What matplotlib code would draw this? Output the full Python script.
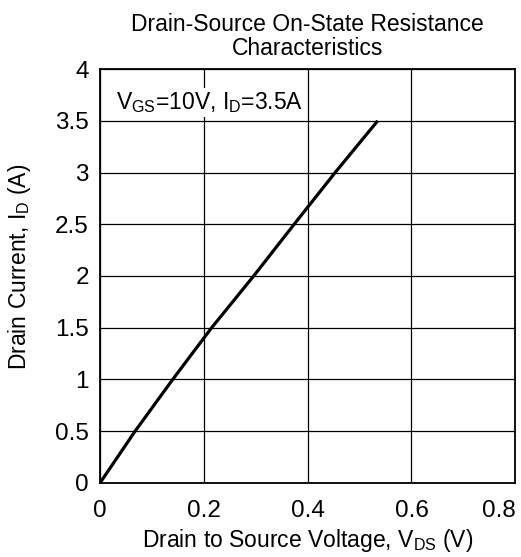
import matplotlib
matplotlib.use("Agg")
import matplotlib.pyplot as plt

plt.rcParams['font.family'] = ['Liberation Sans', 'DejaVu Sans']
plt.rcParams['mathtext.fontset'] = 'custom'
plt.rcParams['mathtext.rm'] = 'Liberation Sans'
plt.rcParams['mathtext.default'] = 'regular'

# Data
vds = [0.0, 0.0675, 0.140, 0.215, 0.296, 0.374, 0.453, 0.535]
id_a = [0.0, 0.5, 1.0, 1.5, 2.0, 2.5, 3.0, 3.5]
xticks = [0, 0.2, 0.4, 0.6, 0.8]
xticklabels = ['0', '0.2', '0.4', '0.6', '0.8']
yticks = [0, 0.5, 1, 1.5, 2, 2.5, 3, 3.5, 4]
yticklabels = ['0', '0.5', '1', '1.5', '2', '2.5', '3', '3.5', '4']

fig = plt.figure(figsize=(5.21, 5.57), dpi=100)
ax = fig.add_axes([0.192, 0.133, 0.797, 0.743])

ax.plot(vds, id_a, color='black', lw=2.3, solid_capstyle='butt', zorder=3)
ax.set_xlim(0, 0.8)
ax.set_ylim(0, 4)
ax.set_xticks(xticks)
ax.set_xticklabels(xticklabels)
ax.set_yticks(yticks)
ax.set_yticklabels(yticklabels)
ax.tick_params(length=0, labelsize=17.5)
ax.tick_params(axis='x', pad=12)
ax.tick_params(axis='y', pad=8)
ax.get_xticklabels()[-1].set_horizontalalignment('right')
ax.grid(True, color='black', lw=0.9)
for s in ax.spines.values():
    s.set_linewidth(1.3)

ax.set_xlabel('Drain to Source Voltage, V$_{DS}$ (V)', fontsize=16.5, labelpad=4)
ax.set_ylabel('Drain Current, I$_{D}$ (A)', fontsize=16.5)
ax.yaxis.set_label_coords(-0.162, 0.522)
ax.set_title('Drain-Source On-State Resistance\nCharacteristics', fontsize=16.5, pad=10, linespacing=1.08)

ax.text(0.031, 3.68, 'V$_{GS}$=10V, I$_{D}$=3.5A', fontsize=16.5, va='center', ha='left',
        bbox=dict(facecolor='white', edgecolor='none', pad=1.5), zorder=4)

fig.savefig('out.png', dpi=100)
